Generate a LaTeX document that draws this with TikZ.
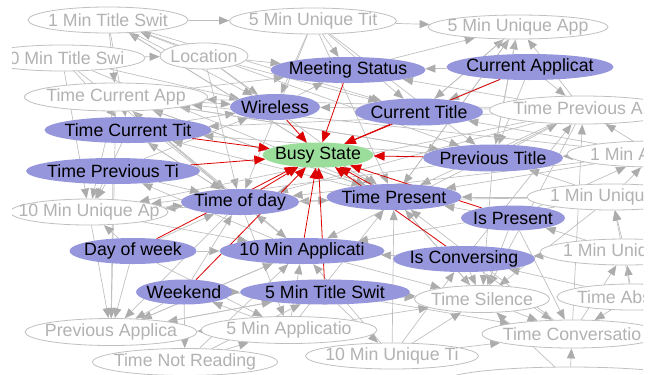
\documentclass[tikz,border=0pt]{standalone}
\usepackage{fontspec}
\setmainfont{Liberation Sans}
\usetikzlibrary{shapes.geometric,arrows.meta}
\pgfdeclarelayer{bg}
\pgfdeclarelayer{mid}
\pgfsetlayers{bg,mid,main}
\definecolor{gline}{RGB}{192,192,192}
\definecolor{gtip}{RGB}{172,172,172}
\definecolor{gtext}{RGB}{178,178,178}
\definecolor{gborder}{RGB}{192,192,192}
\definecolor{bfill}{RGB}{150,150,220}
\definecolor{sfill}{RGB}{155,222,155}
\definecolor{redline}{RGB}{220,0,0}
\newcommand\mkb[1]{\makebox[0pt]{#1}}
\newcommand\mkl[2]{\makebox[0pt]{\makebox[#1bp][l]{#2}}}
\begin{document}
\begin{tikzpicture}[x=1bp,y=-1bp,
  base/.style={ellipse, inner sep=0pt, font=\fontsize{17.8}{19}\selectfont},
  sz/.style 2 args={minimum width=#1bp, minimum height=#2bp},
  gnode/.style={base, draw=gborder, line width=0.8bp, fill=white, text=gtext},
  bnode/.style={base, fill=bfill, text=black},
  snode/.style={base, fill=sfill, text=black},
  gedge/.style={draw=gline, line width=0.7bp, -{Triangle[length=10bp,width=8bp,color=gtip]}},
  redge/.style={draw=redline, line width=0.8bp, -{Triangle[length=11bp,width=9bp]}}
]
\useasboundingbox (0,0) rectangle (654,374);
\begin{scope}
\clip (12,0) rectangle (643,374);
% grey nodes
\node[gnode, sz={160}{26}] (g1) at (108,20) {\mkb{1 Min Title Swit}};
\node[gnode, sz={167}{26}] (g2) at (313,21) {\mkb{5 Min Unique Tit}};
\node[gnode, sz={180}{24}] (g3) at (518,27) {\mkb{5 Min Unique App}};
\node[gnode, sz={166}{26}] (g4) at (62,58) {\mkb{10 Min Title Swi}};
\node[gnode, sz={88}{26}] (g5) at (204,56) {\mkb{Location}};
\node[gnode, sz={183}{28}] (g6) at (116,97) {\mkb{Time Current App}};
\node[gnode, sz={187}{28}] (g7) at (583,110) {\mkb{Time Previous Ap}};
\node[gnode, sz={174}{26}] (g8) at (654,154) {\mkl{128}{1 Min A}};
\node[gnode, sz={170}{26}] (g9) at (612,197) {\mkl{124}{1 Min Uniqu}};
\node[gnode, sz={158}{26}] (g10) at (89,212) {\mkb{10 Min Unique Ap}};
\node[gnode, sz={170}{26}] (g11) at (625,252) {\mkl{124}{1 Min Uniq}};
\node[gnode, sz={150}{26}] (g12) at (632,297) {\mkl{110}{Time Abs}};
\node[gnode, sz={135}{27}] (g13) at (482,299) {\mkb{Time Silence}};
\node[gnode, sz={180}{28}] (g14) at (572,334) {\mkb{Time Conversatio}};
\node[gnode, sz={172}{27}] (g15) at (111,332) {\mkb{Previous Applica}};
\node[gnode, sz={176}{27}] (g16) at (289,330) {\mkb{5 Min Applicatio}};
\node[gnode, sz={185}{27}] (g17) at (185,362) {\mkb{Time Not Reading}};
\node[gnode, sz={173}{26}] (g18) at (392,356) {\mkb{10 Min Unique Ti}};
\node[gnode, sz={250}{28}] (g19) at (570,381) {};
% blue nodes
\node[bnode, sz={155}{26}] (b1) at (348,70) {\mkb{Meeting Status}};
\node[bnode, sz={167}{26}] (b2) at (530,67) {\mkb{Current Applicat}};
\node[bnode, sz={90}{26}] (b3) at (275,107) {\mkb{Wireless}};
\node[bnode, sz={128}{27}] (b4) at (419,112) {\mkb{Current Title}};
\node[bnode, sz={167}{26}] (b5) at (128,130) {\mkb{Time Current Tit}};
\node[snode, sz={111}{25}] (busy) at (318,155) {\mkb{Busy State}};
\node[bnode, sz={140}{27}] (b6) at (493,158) {\mkb{Previous Title}};
\node[bnode, sz={174}{26}] (b7) at (113,171) {\mkb{Time Previous Ti}};
\node[bnode, sz={118}{26}] (b8) at (240,202) {\mkb{Time of day}};
\node[bnode, sz={135}{26}] (b9) at (394,197) {\mkb{Time Present}};
\node[bnode, sz={104}{25}] (b10) at (513,218) {\mkb{Is Present}};
\node[bnode, sz={127}{26}] (b11) at (133,251) {\mkb{Day of week}};
\node[bnode, sz={165}{26}] (b12) at (302,251) {\mkb{10 Min Applicati}};
\node[bnode, sz={142}{26}] (b13) at (464,259) {\mkb{Is Conversing}};
\node[bnode, sz={96}{25}] (b14) at (184,292) {\mkb{Weekend}};
\node[bnode, sz={170}{25}] (b15) at (325,292) {\mkb{5 Min Title Swit}};
\end{scope}
\begin{pgfonlayer}{bg}
\clip (12,0) rectangle (643,374);
\foreach \a/\b in {g1/g2, g2/g3, g5/g1, g5/b1, b2/b1,
  g1/b3, g1/b4, g1/g6, g1/b5, g2/b1, g2/b4, g2/b3,
  g4/b3, g4/b5, g4/g5, g4/g10, g5/b3, g5/b4, g6/b3, g6/b1, g6/g10, g6/g15, g6/b8,
  b4/g3, b9/g3, g7/g3, b6/g3, b1/g3, b2/g7, b2/b4, b2/b6,
  g7/g6, g7/b1, g7/b3, g7/b5, g7/b8, g7/g13, b6/g7, b6/g6, b6/b5, b6/g13, b6/g10,
  g8/b4, g8/b6, g8/b9, g8/g7, g9/g8, g9/b9, g9/b8, g9/b6,
  b10/g8, b10/g13, b10/g14, g11/g9, g12/g11, g12/g9, g14/g11, g14/g7,
  b9/g6, b9/b5, b9/g13, b9/g1, b9/g10, b8/b5, b8/g6, b8/g15, b8/g16,
  b7/g10, b7/g15, b5/g10, g10/g15, b11/g15, b11/g16, b11/g10,
  b12/g15, b12/b8, b12/g13, b12/b7, b13/g13, b13/g14, b13/g7,
  b14/g15, b14/g13, b14/b15, b14/g17, b15/g13, b15/g15, b15/g18, b15/g14,
  g16/g15, g16/g13, g16/b14, g17/g16, g18/g14, g13/g14, g19/g14, g19/g13, g18/g13,
  b3/b1, b5/b3, b7/b3, g10/b8, b11/b8, g15/b12, g17/b12, g18/b9, g3/b4, g2/b6,
  g1/b9, g1/b6, g2/b9, g2/b8, g4/b8, g4/b9, g5/b9, g5/b8, g6/b9, g6/b6, g6/b12,
  g3/b9, g3/b6, g7/b9, g7/b12, g7/g10, g8/b8, g8/g6, g9/b12, g9/g13, g10/b9,
  g10/b12, g11/b13, g11/b10, g12/b13, g12/g14, g15/b15, g16/b12, g16/b9, g17/b15,
  g18/b13, g18/b12, g13/b9, g14/b9, b11/b12, b7/b8, b5/b8, b14/b8, b13/b12, b10/b9}
  \draw[gedge] (\a) -- (\b);
\end{pgfonlayer}
\begin{pgfonlayer}{mid}
\foreach \a in {b1,b2,b3,b4,b5,b6,b7,b8,b9,b10,b11,b12,b13,b14,b15}
  \draw[redge] (\a) -- (busy);
\end{pgfonlayer}
\end{tikzpicture}
\end{document}
